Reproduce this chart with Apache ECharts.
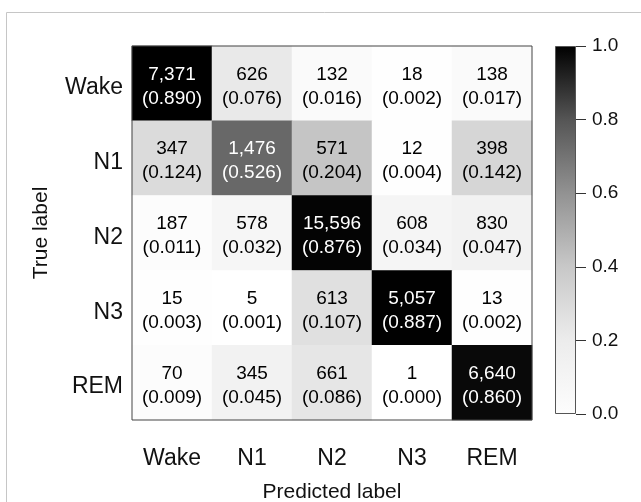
<!DOCTYPE html>
<html>
<head>
<meta charset="utf-8">
<script src="https://cdn.jsdelivr.net/npm/echarts@6/dist/echarts.min.js"></script>
<style>
  html, body { margin: 0; padding: 0; background: #fff; }
  #chart { width: 641px; height: 502px; }
</style>
</head>
<body>
<div id="chart"></div>
<script>
// Sleep-stage confusion matrix: rows are true labels, columns are predictions.
const stages = ['Wake', 'N1', 'N2', 'N3', 'REM'];

const countsWake = [7371, 626, 132, 18, 138];
const countsN1   = [347, 1476, 571, 12, 398];
const countsN2   = [187, 578, 15596, 608, 830];
const countsN3   = [15, 5, 613, 5057, 13];
const countsREM  = [70, 345, 661, 1, 6640];

const ratesWake = [0.890, 0.076, 0.016, 0.002, 0.017];
const ratesN1   = [0.124, 0.526, 0.204, 0.004, 0.142];
const ratesN2   = [0.011, 0.032, 0.876, 0.034, 0.047];
const ratesN3   = [0.003, 0.001, 0.107, 0.887, 0.002];
const ratesREM  = [0.009, 0.045, 0.086, 0.000, 0.860];

const colorbarTicks = [0, 0.2, 0.4, 0.6, 0.8, 1.0];

const countRows = [countsWake, countsN1, countsN2, countsN3, countsREM];
const rateRows  = [ratesWake, ratesN1, ratesN2, ratesN3, ratesREM];

const FONT = "'Liberation Sans', Arial, Helvetica, sans-serif";

const cells = [];
rateRows.forEach((row, r) => {
  row.forEach((rate, c) => {
    cells.push({
      value: [c, r, rate, countRows[r][c]],
      label: { color: rate > 0.5 ? '#ffffff' : '#000000' }
    });
  });
});

// cell shading runs from white at 0 to black at the largest rate
const maxRate = Math.max(...rateRows.flat());

const chart = echarts.init(document.getElementById('chart'), null, { renderer: 'canvas' });

chart.setOption({
  backgroundColor: '#ffffff',
  animation: false,
  textStyle: { fontFamily: FONT },
  graphic: [{
    type: 'rect',
    shape: { x: 6.5, y: 12.5, width: 700, height: 600 },
    style: { fill: 'none', stroke: '#c6c6c6', lineWidth: 1 },
    silent: true,
    z: -1
  }],
  grid: [
    {
      left: 132, top: 46, width: 400, height: 374, containLabel: false, outerBoundsMode: 'none',
      show: true, borderColor: '#444', borderWidth: 1, z: 5
    },
    { left: 555, top: 46, width: 21, height: 368, containLabel: false, outerBoundsMode: 'none' }
  ],
  xAxis: [
    {
      type: 'category', gridIndex: 0, data: stages,
      name: 'Predicted label', nameLocation: 'middle', nameGap: 62,
      nameTextStyle: { fontSize: 21, color: '#111', fontFamily: FONT },
      axisLine: { show: false }, axisTick: { show: false }, splitLine: { show: false },
      axisLabel: { fontSize: 23, color: '#111', margin: 27, fontFamily: FONT }
    },
    { type: 'category', gridIndex: 1, data: [''], show: false }
  ],
  yAxis: [
    {
      type: 'category', gridIndex: 0, data: stages, inverse: true,
      name: 'True label', nameLocation: 'middle', nameGap: 80, nameRotate: 90,
      nameTextStyle: { fontSize: 21, color: '#111', fontFamily: FONT },
      axisLine: { show: false }, axisTick: { show: false }, splitLine: { show: false },
      axisLabel: {
        margin: 9, fontFamily: FONT,
        formatter: v => '{s|' + v + '}',
        rich: { s: { fontSize: 23, color: '#111', fontFamily: FONT, padding: [9, 0, 0, 0] } }
      }
    },
    {
      type: 'value', gridIndex: 1, position: 'right', min: 0, max: 1, interval: 0.2,
      axisLine: { show: false },
      axisTick: { show: true, inside: false, length: 10, lineStyle: { color: '#333', width: 1 } },
      splitLine: { show: false },
      axisLabel: {
        fontSize: 19, color: '#111', margin: 16, fontFamily: FONT,
        formatter: v => colorbarTicks.indexOf(Math.round(v * 10) / 10) >= 0 ? v.toFixed(1) : ''
      }
    }
  ],
  visualMap: {
    show: false, type: 'continuous', min: 0, max: maxRate, dimension: 2, seriesIndex: 0,
    inRange: { color: ['#ffffff', '#000000'] }
  },
  series: [
    {
      type: 'heatmap', xAxisIndex: 0, yAxisIndex: 0, data: cells,
      label: {
        show: true, fontSize: 19, lineHeight: 24, fontFamily: FONT, offset: [0, 3],
        formatter: p => p.value[3].toLocaleString('en-US') + '\n(' + p.value[2].toFixed(3) + ')'
      },
      itemStyle: { borderWidth: 0 },
      emphasis: { disabled: true }
    },
    {
      type: 'bar', xAxisIndex: 1, yAxisIndex: 1, data: [1], barWidth: '100%', silent: true,
      itemStyle: {
        color: new echarts.graphic.LinearGradient(0, 0, 0, 1, [
          { offset: 0, color: '#000000' },
          { offset: 0.2, color: '#555555' },
          { offset: 0.4, color: '#929292' },
          { offset: 0.6, color: '#c8c8c8' },
          { offset: 0.8, color: '#ececec' },
          { offset: 1, color: '#fdfdfd' }
        ]),
        borderColor: '#555', borderWidth: 1
      }
    }
  ]
});
</script>
</body>
</html>
